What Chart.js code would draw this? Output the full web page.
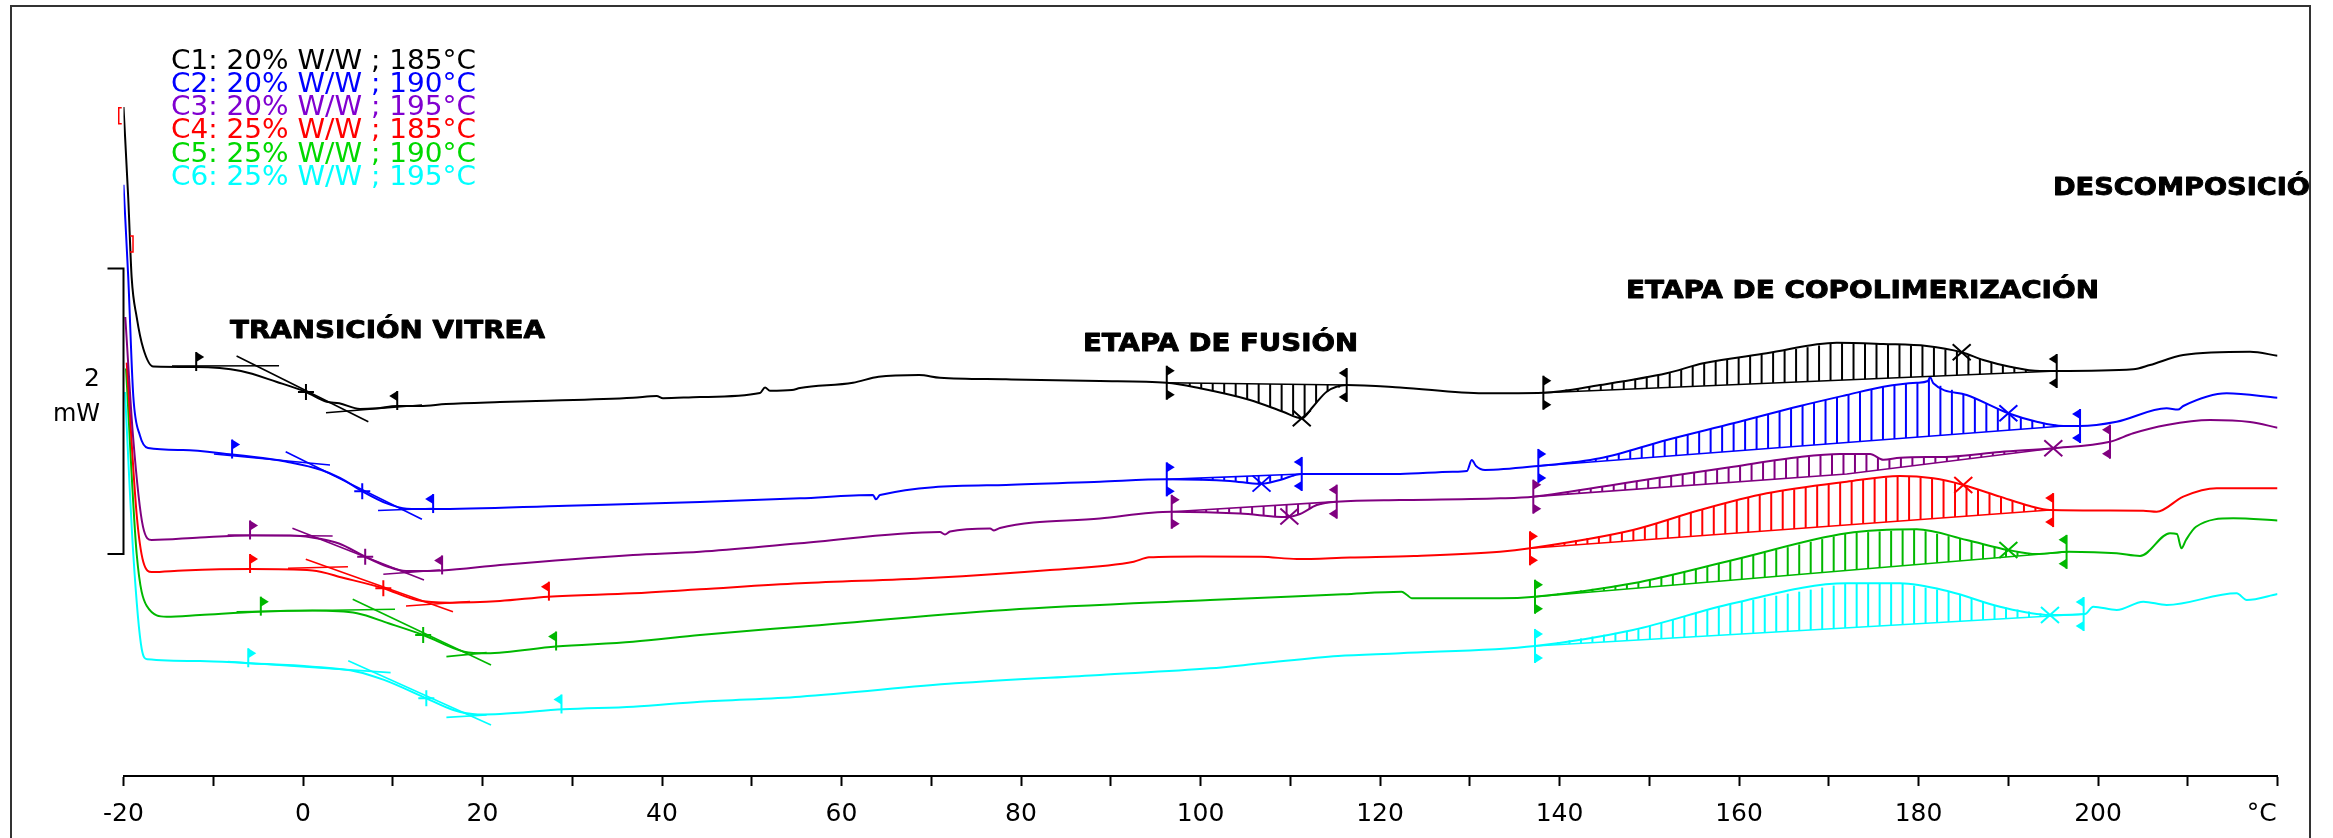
<!DOCTYPE html>
<html>
<head>
<meta charset="utf-8">
<script src="https://cdn.jsdelivr.net/npm/chart.js@4.4.1/dist/chart.umd.min.js"></script>
<style>
  html, body { margin: 0; padding: 0; background: #fff; }
  canvas { display: block; }
</style>
</head>
<body>
<canvas id="c" width="2333" height="838"></canvas>
<script>
// ---------- DATA (temperature °C, heat flow mW with arbitrary offset) ----------
const seriesLabels = [
  'C1: 20% W/W ; 185°C', 'C2: 20% W/W ; 190°C', 'C3: 20% W/W ; 195°C',
  'C4: 25% W/W ; 185°C', 'C5: 25% W/W ; 190°C', 'C6: 25% W/W ; 195°C'
];

const C1 = [[-20.0,4.686],[-19.47,4.045],[-19.09,3.491],[-18.53,3.215],[-17.79,2.993],[-16.68,2.868],[-11.92,2.865],[-6.91,2.837],[-2.90,2.760],[0.33,2.690],[2.64,2.622],[4.04,2.611],[6.35,2.571],[8.21,2.576],[10.47,2.592],[13.04,2.592],[15.93,2.606],[21.95,2.620],[25.96,2.627],[36.77,2.650],[39.40,2.662],[40.11,2.646],[44.23,2.655],[50.92,2.683],[51.48,2.721],[52.03,2.699],[54.48,2.704],[55.38,2.718],[61.28,2.755],[64.13,2.797],[68.64,2.809],[70.97,2.790],[78.33,2.779],[88.80,2.767],[96.24,2.755],[99.94,2.716],[105.52,2.634],[109.19,2.552],[111.28,2.506],[112.53,2.587],[114.06,2.692],[116.29,2.739],[122.23,2.722],[131.51,2.681],[138.20,2.685],[144.51,2.739],[151.94,2.821],[156.02,2.891],[163.09,2.961],[170.89,3.035],[176.08,3.026],[180.91,3.012],[184.81,2.968],[187.22,2.914],[190.19,2.867],[193.54,2.837],[195.40,2.837],[203.93,2.849],[205.79,2.879],[209.50,2.949],[216.94,2.972],[220.0,2.944]];

const C2 = [[-20.0,4.142],[-19.47,3.491],[-18.91,2.662],[-18.16,2.384],[-17.27,2.298],[-13.37,2.284],[-7.91,2.252],[-3.68,2.221],[-1.93,2.203],[2.05,2.144],[4.12,2.088],[6.57,1.996],[9.33,1.910],[11.55,1.873],[14.48,1.870],[29.38,1.894],[44.23,1.919],[55.38,1.945],[63.51,1.968],[63.84,1.938],[64.29,1.968],[78.33,2.039],[88.80,2.062],[96.24,2.078],[103.29,2.067],[106.63,2.046],[108.86,2.074],[111.28,2.116],[122.23,2.116],[128.13,2.132],[129.69,2.137],[130.22,2.214],[130.70,2.172],[131.70,2.144],[137.64,2.172],[144.51,2.226],[151.94,2.354],[159.36,2.471],[166.80,2.592],[172.00,2.669],[176.08,2.727],[179.80,2.755],[181.06,2.767],[181.28,2.795],[181.65,2.751],[185.37,2.669],[190.01,2.541],[193.17,2.482],[196.14,2.452],[198.00,2.452],[202.08,2.482],[207.65,2.576],[208.91,2.567],[209.50,2.592],[214.34,2.681],[220.0,2.650]];

const C3 = [[-19.8,3.215],[-18.94,2.382],[-17.83,1.747],[-16.86,1.653],[-11.48,1.671],[-5.91,1.685],[-1.45,1.685],[1.00,1.671],[4.01,1.629],[6.93,1.536],[9.47,1.466],[11.48,1.436],[15.49,1.440],[21.95,1.478],[36.77,1.548],[44.23,1.571],[55.38,1.630],[70.97,1.709],[71.53,1.692],[72.09,1.713],[76.55,1.734],[76.99,1.720],[77.66,1.737],[88.80,1.804],[96.79,1.851],[104.40,1.839],[109.60,1.814],[111.09,1.835],[112.95,1.898],[115.18,1.922],[122.23,1.933],[133.37,1.945],[137.08,1.957],[148.19,2.062],[159.36,2.167],[166.80,2.235],[171.25,2.256],[174.60,2.256],[176.08,2.215],[177.94,2.230],[183.51,2.237],[189.08,2.270],[195.02,2.296],[201.34,2.342],[203.93,2.401],[207.65,2.459],[212.48,2.494],[216.94,2.480],[220.0,2.440]];

const C4 = [[-19.64,2.896],[-18.53,1.830],[-17.79,1.499],[-16.85,1.429],[-13.37,1.440],[-5.91,1.450],[1.06,1.440],[4.55,1.387],[8.95,1.315],[12.67,1.233],[16.38,1.214],[21.95,1.226],[27.30,1.256],[36.77,1.280],[44.23,1.308],[55.38,1.350],[69.82,1.387],[83.23,1.443],[92.56,1.501],[94.26,1.532],[99.94,1.538],[106.74,1.536],[110.75,1.520],[116.66,1.531],[123.79,1.541],[133.37,1.571],[136.71,1.595],[148.19,1.723],[155.65,1.863],[163.09,1.980],[172.00,2.062],[177.94,2.102],[181.65,2.085],[184.99,2.039],[189.08,1.957],[192.42,1.891],[194.65,1.863],[205.05,1.858],[206.54,1.851],[209.50,1.957],[213.22,2.015],[220.0,2.015]];

const C5 = [[-19.72,2.855],[-18.53,1.555],[-17.42,1.193],[-15.19,1.116],[-11.48,1.128],[-4.90,1.151],[1.06,1.159],[6.02,1.140],[9.52,1.070],[13.39,0.988],[17.97,0.871],[20.46,0.860],[28.17,0.907],[36.77,0.941],[44.23,0.988],[55.38,1.046],[78.33,1.163],[101.06,1.233],[115.88,1.273],[122.40,1.291],[123.01,1.268],[123.53,1.245],[133.37,1.245],[137.27,1.256],[148.19,1.350],[159.33,1.513],[172.00,1.700],[179.80,1.728],[185.37,1.653],[190.01,1.583],[193.17,1.555],[196.69,1.571],[202.08,1.560],[204.68,1.541],[208.02,1.700],[208.80,1.695],[209.30,1.595],[209.80,1.653],[210.92,1.746],[215.07,1.805],[220.0,1.790]];

const C6 = [[-19.83,2.690],[-18.91,1.555],[-17.97,0.890],[-17.35,0.818],[-11.48,0.806],[-6.15,0.790],[1.06,0.766],[6.02,0.731],[9.03,0.673],[13.74,0.544],[16.75,0.462],[19.47,0.431],[21.95,0.434],[29.00,0.467],[36.80,0.485],[44.23,0.520],[55.38,0.556],[72.65,0.649],[88.80,0.708],[101.06,0.754],[106.74,0.789],[115.32,0.841],[122.23,0.860],[137.27,0.911],[148.19,1.023],[159.36,1.210],[172.00,1.350],[177.94,1.350],[183.51,1.291],[189.08,1.186],[194.65,1.128],[198.55,1.135],[199.47,1.186],[202.08,1.163],[205.05,1.221],[207.65,1.198],[215.45,1.280],[216.57,1.233],[220.0,1.275]];

const curves = [C1, C2, C3, C4, C5, C6];

// glass transition analysis (°C): onset flag, midpoint, endset flag
const tgStart = [-11.9, -7.9, -5.9, -5.9, -4.7, -6.1];
const tgMid   = [0.33, 6.6, 6.93, 8.95, 13.39, 13.74];
const tgEnd   = [10.5, 14.5, 15.5, 27.4, 28.2, 28.8];

// tangent lines of the Tg evaluation: [T1, mW1, T2, mW2]
const tangents = [
  [[-14.6,2.872,-2.67,2.874],[-7.40,2.942,7.28,2.482],[2.56,2.545,13.26,2.599]],
  [[-9.92,2.256,3.01,2.179],[-1.93,2.272,13.25,1.798],[8.36,1.860,14.37,1.874]],
  [[-8.39,1.688,3.30,1.681],[-1.18,1.735,13.48,1.373],[8.95,1.413,15.26,1.443]],
  [[-1.67,1.455,5.01,1.466],[0.31,1.518,16.71,1.151],[11.48,1.191,18.61,1.222]],
  [[-7.40,1.151,10.25,1.168],[5.54,1.238,20.95,0.778],[15.98,0.836,20.46,0.864]],
  [[-8.39,0.801,9.76,0.724],[5.04,0.808,20.95,0.357],[15.98,0.411,20.46,0.427]]
];

// integrated peaks (melting and copolymerization)
const peakCurve = [0, 1, 2, 0, 1, 2, 3, 4, 5];
const peakBase = [
  [[96.24,2.755],[116.29,2.739]],
  [[96.24,2.078],[111.28,2.116]],
  [[96.79,1.851],[115.18,1.922]],
  [[138.20,2.685],[195.40,2.837]],
  [[137.64,2.172],[196.14,2.452]],
  [[137.08,1.957],[172.00,2.116],[195.02,2.296]],
  [[136.71,1.595],[194.65,1.863]],
  [[137.27,1.256],[196.69,1.571]],
  [[137.27,0.911],[198.55,1.135]]
];
const peakLimits = [[96.24,116.29],[96.24,111.28],[96.79,115.18],[138.20,195.40],[137.64,198.0],[137.08,201.34],[136.71,195.0],[137.27,196.5],[137.27,198.4]];
const peakMark = [111.28, 106.8, 109.9, 184.81, 190.01, 195.02, 184.99, 190.01, 194.65];

// range markers of the first run
const rangeMarkT = [-20.53, -18.94];
const rangeMarkV = [4.626, 3.727];

const scaleBarT = -20, scaleBarLow = 1.555, scaleBarSpan = 2; // 2 mW
const xTickStep = 10;
const annotations = ['TRANSICIÓN VITREA', 'ETAPA DE FUSIÓN', 'ETAPA DE COPOLIMERIZACIÓN', 'DESCOMPOSICIÓN'];

// ---------- STYLE ----------
const lineColors = ['#000000', '#0000ff', '#800080', '#ff0000', '#00b800', '#00ffff'];
const textColors = ['#000000', '#0000ff', '#8000d0', '#ff0000', '#00d800', '#00ffff'];
const HATCH = 1.28;

function interp(data, T) {
  if (T <= data[0][0]) return data[0][1];
  for (let i = 0; i < data.length - 1; i++) {
    const [t0, v0] = data[i], [t1, v1] = data[i + 1];
    if (T >= t0 && T <= t1) return v0 + (v1 - v0) * (T - t0) / (t1 - t0);
  }
  return data[data.length - 1][1];
}

function fitText(ctx, str, x, baseY, font, color, targetW, measureStr, strokeW) {
  ctx.save();
  ctx.font = font; ctx.fillStyle = color; ctx.strokeStyle = color;
  ctx.textBaseline = 'alphabetic'; ctx.textAlign = 'left';
  const w = ctx.measureText(measureStr || str).width;
  ctx.translate(x, baseY); ctx.scale(targetW / w, 1);
  ctx.fillText(str, 0, 0);
  if (strokeW) { ctx.lineWidth = strokeW; ctx.lineJoin = 'round'; ctx.strokeText(str, 0, 0); }
  ctx.restore();
}

const decor = {
  id: 'decor',
  afterDatasetsDraw(chart) {
    const { ctx, scales: { x, y } } = chart;
    const px = T => x.getPixelForValue(T), py = v => y.getPixelForValue(v);
    ctx.save();
    ctx.lineCap = 'butt';

    function flag(T, data, col, dir, dbl) {
      const X = px(T), Y = py(interp(data, T));
      ctx.strokeStyle = col; ctx.fillStyle = col; ctx.lineWidth = 2;
      const top = dbl ? Y - 17 : Y - 15, bot = dbl ? Y + 17 : Y + 4;
      ctx.beginPath(); ctx.moveTo(X, top); ctx.lineTo(X, bot); ctx.stroke();
      ctx.beginPath(); ctx.moveTo(X, top); ctx.lineTo(X + dir * 8, top + 5); ctx.lineTo(X, top + 10); ctx.closePath(); ctx.fill();
      if (dbl) {
        ctx.beginPath(); ctx.moveTo(X, bot); ctx.lineTo(X + dir * 8, bot - 5); ctx.lineTo(X, bot - 10); ctx.closePath(); ctx.fill();
      }
    }
    function plus(T, data, col) {
      const X = px(T), Y = py(interp(data, T));
      ctx.strokeStyle = col; ctx.lineWidth = 2;
      ctx.beginPath(); ctx.moveTo(X - 8, Y); ctx.lineTo(X + 8, Y); ctx.moveTo(X, Y - 8); ctx.lineTo(X, Y + 8); ctx.stroke();
    }
    function cross(T, data, col) {
      const X = px(T), Y = py(interp(data, T));
      ctx.strokeStyle = col; ctx.lineWidth = 2;
      ctx.beginPath(); ctx.moveTo(X - 9, Y - 8); ctx.lineTo(X + 9, Y + 8); ctx.moveTo(X - 9, Y + 8); ctx.lineTo(X + 9, Y - 8); ctx.stroke();
    }

    // Tg evaluations
    curves.forEach((data, i) => {
      const col = lineColors[i];
      ctx.strokeStyle = col; ctx.lineWidth = 1.6;
      tangents[i].forEach(([t1, v1, t2, v2]) => {
        ctx.beginPath(); ctx.moveTo(px(t1), py(v1)); ctx.lineTo(px(t2), py(v2)); ctx.stroke();
      });
      flag(tgStart[i], data, col, 1, false);
      flag(tgEnd[i], data, col, -1, false);
      plus(tgMid[i], data, col);
    });

    // Peaks with hatching
    peakBase.forEach((base, k) => {
      const ci = peakCurve[k], data = curves[ci], col = lineColors[ci];
      ctx.strokeStyle = col; ctx.lineWidth = 1.6;
      ctx.beginPath();
      base.forEach(([t, v], j) => j ? ctx.lineTo(px(t), py(v)) : ctx.moveTo(px(t), py(v)));
      ctx.stroke();
      const t0 = base[0][0], t1 = base[base.length - 1][0];
      ctx.lineWidth = 2;
      for (let t = t0 + HATCH; t < t1 - 0.3; t += HATCH) {
        ctx.beginPath(); ctx.moveTo(px(t), py(interp(data, t))); ctx.lineTo(px(t), py(interp(base, t))); ctx.stroke();
      }
      flag(peakLimits[k][0], data, col, 1, true);
      flag(peakLimits[k][1], data, col, -1, true);
      cross(peakMark[k], data, col);
    });

    // range markers (red brackets)
    ctx.strokeStyle = '#ff0000'; ctx.lineWidth = 1.5;
    rangeMarkT.forEach((T, k) => {
      const X = px(T), Y = py(rangeMarkV[k]), d = k === 0 ? 1 : -1;
      ctx.beginPath(); ctx.moveTo(X + d * 3, Y - 8); ctx.lineTo(X, Y - 8); ctx.lineTo(X, Y + 8); ctx.lineTo(X + d * 3, Y + 8); ctx.stroke();
    });

    // scale bar (2 mW)
    const bx = px(scaleBarT), b0 = py(scaleBarLow), b1 = py(scaleBarLow + scaleBarSpan);
    ctx.strokeStyle = '#000'; ctx.lineWidth = 2;
    ctx.beginPath();
    ctx.moveTo(bx - 16, b1); ctx.lineTo(bx, b1); ctx.lineTo(bx, b0); ctx.lineTo(bx - 16, b0);
    ctx.stroke();
    ctx.restore();
  },
  afterDraw(chart) {
    const ctx = chart.ctx;
    ctx.save();
    // frame
    ctx.strokeStyle = '#333'; ctx.lineWidth = 2;
    ctx.strokeRect(11, 6, 2299, 900);
    // scale bar label
    ctx.fillStyle = '#000'; ctx.font = '25px "DejaVu Sans"'; ctx.textAlign = 'right'; ctx.textBaseline = 'alphabetic';
    ctx.fillText(String(scaleBarSpan), 100, 386);
    ctx.font = '24px "DejaVu Sans"';
    ctx.fillText('mW', 100, 421);
    // legend
    seriesLabels.forEach((s, i) => {
      fitText(ctx, s, 171, 68.5 + i * 23.3, '26px "DejaVu Sans"', textColors[i], 305);
    });
    // annotations
    const bf = 'bold 25px "DejaVu Sans"';
    fitText(ctx, annotations[0], 230, 338, bf, '#000', 315, null, 0.9);
    fitText(ctx, annotations[1], 1083, 351, bf, '#000', 275, null, 0.9);
    fitText(ctx, annotations[2], 1626, 298, bf, '#000', 473, null, 0.9);
    ctx.save();
    ctx.beginPath(); ctx.rect(0, 0, 2309, 838); ctx.clip();
    fitText(ctx, annotations[3], 2053, 195, bf, '#000', 257, annotations[3].slice(0, -1), 0.9);
    ctx.restore();
    ctx.restore();
  }
};

new Chart(document.getElementById('c').getContext('2d'), {
  type: 'line',
  data: {
    datasets: curves.map((c, i) => ({
      label: seriesLabels[i],
      data: c.map(([x, y]) => ({ x, y })),
      borderColor: lineColors[i],
      borderWidth: 2,
      pointRadius: 0,
      cubicInterpolationMode: 'monotone',
      fill: false
    }))
  },
  options: {
    responsive: false,
    animation: false,
    devicePixelRatio: 1,
    layout: { padding: { left: 123.5, right: 55.5, top: 6, bottom: 0 } },
    plugins: { legend: { display: false }, tooltip: { enabled: false } },
    scales: {
      x: {
        type: 'linear', min: -20, max: 220,
        afterFit: s => { s.height = 62; },
        border: { display: true, color: '#000', width: 2 },
        grid: { display: true, drawOnChartArea: false, drawTicks: true, tickLength: 10, color: '#000', tickWidth: 2 },
        ticks: {
          stepSize: xTickStep, autoSkip: false, maxRotation: 0, padding: 13, color: '#000',
          font: { family: 'DejaVu Sans', size: 25 },
          callback: v => v === 220 ? '°C    ' : (v % 20 === 0 ? String(v) : '')
        }
      },
      y: { type: 'linear', display: false, min: 0, max: 5.394 }
    }
  },
  plugins: [decor]
});
</script>
</body>
</html>
